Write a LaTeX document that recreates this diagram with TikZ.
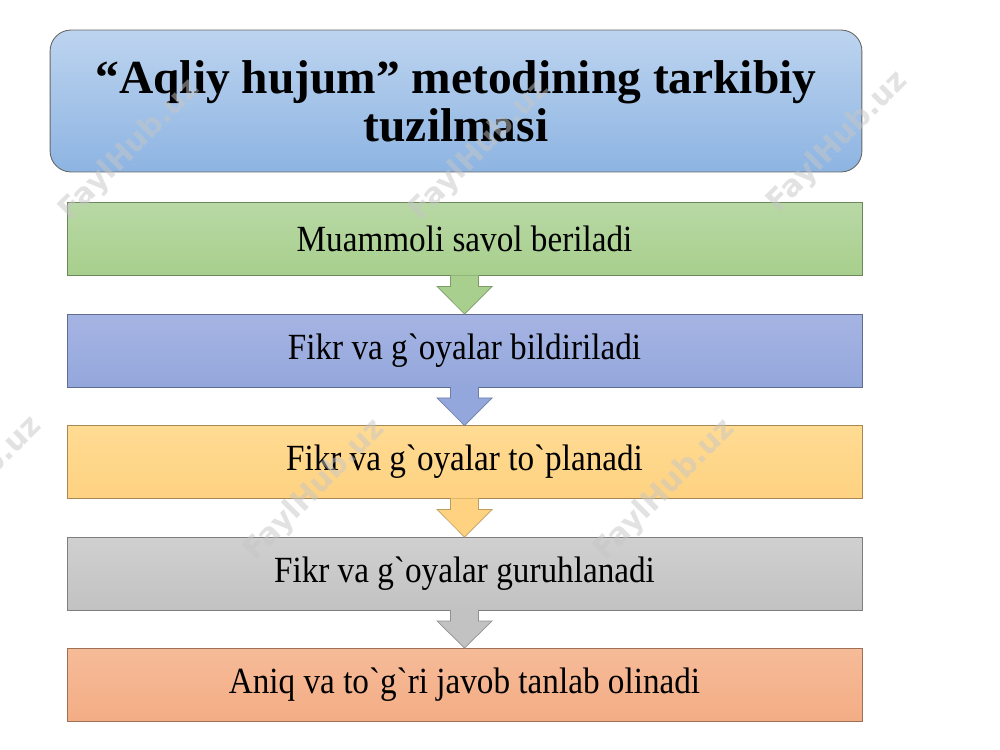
\documentclass[tikz,border=0pt]{standalone}
\usepackage{fontspec}
\setmainfont{Liberation Serif}
\newfontfamily\bodyfont[Ligatures=TeXOff,FakeStretch=0.9]{Liberation Serif}
\newfontfamily\titlefont[Ligatures=TeXOff]{Liberation Serif}
\newfontfamily\wmfont{DejaVu Sans}
\usetikzlibrary{calc}
\definecolor{tTop}{HTML}{BDD4EF}
\definecolor{tBot}{HTML}{8DB4E2}
\definecolor{gTop}{HTML}{B8D8A5}
\definecolor{gBot}{HTML}{A8CF8D}
\definecolor{bTop}{HTML}{A6B4E3}
\definecolor{bBot}{HTML}{94A7DC}
\definecolor{oTop}{HTML}{FFDB93}
\definecolor{oBot}{HTML}{FED281}
\definecolor{kTop}{HTML}{D0D0D0}
\definecolor{kBot}{HTML}{C2C2C2}
\definecolor{sTop}{HTML}{F6BB98}
\definecolor{sBot}{HTML}{F3AD85}
\tikzset{
  titlebox/.style={draw=gray!80!black, line width=0.5pt, rounded corners=0.42cm,
    top color=tTop, bottom color=tBot, minimum width=16.24cm, minimum height=2.84cm,
    inner sep=0pt, outer sep=0pt, align=center,
    font=\titlefont\bfseries\fontsize{27}{27.5}\selectfont},
  stepbox/.style={draw=#1Bot!65!black, line width=0.4pt, top color=#1Top, bottom color=#1Bot,
    minimum width=15.9cm, minimum height=1.46cm, inner sep=0pt, outer sep=0pt,
    font=\bodyfont\fontsize{21}{22}\selectfont},
  downarrow/.style={fill=#1Bot, draw=#1Bot!75!black, line width=0.4pt},
  watermark/.style={rotate=45, text=gray!45, opacity=0.5,
    font=\wmfont\bfseries\fontsize{17}{17}\selectfont}
}
\begin{document}
\begin{tikzpicture}[x=0.02cm,y=-0.02cm]
\useasboundingbox (0,0) rectangle (1000,750);
\node[titlebox] (title) at (456,101) {“Aqliy hujum” metodining tarkibiy\\tuzilmasi};
\node[stepbox=g] (s1) at (464.5,239) {Muammoli savol beriladi};
\node[stepbox=b] (s2) at (464.5,350.5) {Fikr va g`oyalar bildiriladi};
\node[stepbox=o] (s3) at (464.5,462) {Fikr va g`oyalar to`planadi};
\node[stepbox=k] (s4) at (464.5,573.5) {Fikr va g`oyalar guruhlanadi};
\node[stepbox=s] (s5) at (464.5,684.5) {Aniq va to`g`ri javob tanlab olinadi};
\foreach \a/\b/\c in {s1/s2/g, s2/s3/b, s3/s4/o, s4/s5/k}{
  \draw[downarrow=\c] ($(\a.south)+(-14,0)$) -- ($(\a.south)+(-14,11)$) -- ($(\a.south)+(-27.5,11)$)
    -- (\b.north) -- ($(\a.south)+(27.5,11)$) -- ($(\a.south)+(14,11)$) -- ($(\a.south)+(14,0)$);
}
\node[watermark] (w1) at (130,150) {FaylHub.uz};
\node[watermark] (w2) at (480,150) {FaylHub.uz};
\node[watermark] (w3) at (838,142) {FaylHub.uz};
\node[watermark] (w4) at (-28,487) {FaylHub.uz};
\node[watermark] (w5) at (315,490) {FaylHub.uz};
\node[watermark] (w6) at (665,490) {FaylHub.uz};
\end{tikzpicture}
\end{document}
